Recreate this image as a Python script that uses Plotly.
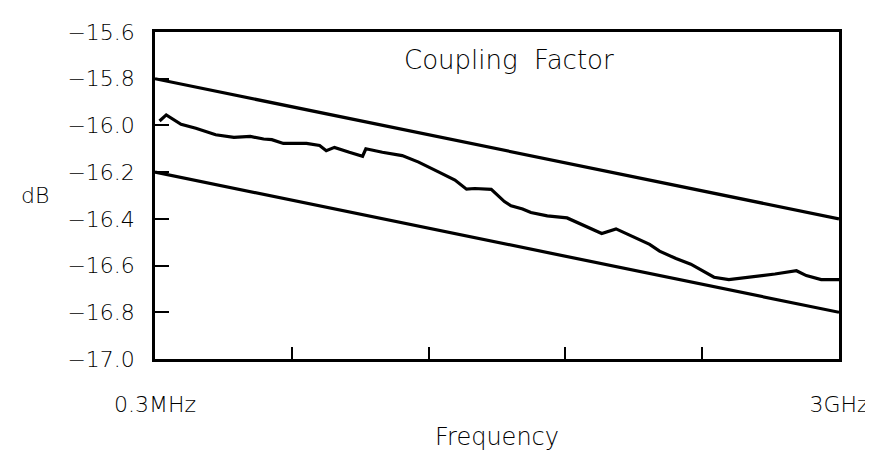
import plotly.graph_objects as go

# Measured coupling factor (frequency in MHz, value in dB)
freq_mhz = [0.319, 0.349, 0.426, 0.520, 0.679, 0.868, 1.083, 1.295, 1.446, 1.690,
            2.306, 2.753, 3.010, 3.362, 4.106, 4.909, 5.130, 6.408, 8.367, 10.44,
            13.63, 17.03, 19.90, 22.23, 27.77, 33.15, 36.25, 42.33, 47.34, 59.05,
            77.07, 105.3, 122.9, 149.0, 179.5, 234.2, 267.7, 334.0, 407.9, 476.7,
            557.3, 680.6, 888.3, 1266.5, 1691, 1932, 2360, 3000]
coupling_db = [-15.981, -15.955, -15.995, -16.012, -16.040, -16.051, -16.047, -16.058, -16.061, -16.077,
               -16.077, -16.086, -16.108, -16.094, -16.115, -16.132, -16.100, -16.115, -16.129, -16.157,
               -16.199, -16.234, -16.273, -16.270, -16.274, -16.326, -16.344, -16.358, -16.373, -16.387,
               -16.396, -16.439, -16.463, -16.443, -16.471, -16.509, -16.538, -16.570, -16.594, -16.622,
               -16.650, -16.660, -16.650, -16.636, -16.622, -16.643, -16.660, -16.660]

# Limit lines
limit_freq = [0.3, 3000]
upper_limit = [-15.8, -16.4]
lower_limit = [-16.2, -16.8]

# Axis ticks
x_tickvals = [0.3, 1.893, 11.94, 75.36, 475.5, 3000]
x_ticktext = ["0.3MHz", "", "", "", "", "3GHz"]
y_tickvals = [-15.6, -15.8, -16.0, -16.2, -16.4, -16.6, -16.8, -17.0]

FONT = "DejaVu Sans"
line_style = dict(color="black", width=3.2)

fig = go.Figure()
fig.add_trace(go.Scatter(x=limit_freq, y=upper_limit, mode="lines", line=line_style, showlegend=False))
fig.add_trace(go.Scatter(x=limit_freq, y=lower_limit, mode="lines", line=line_style, showlegend=False))
fig.add_trace(go.Scatter(x=freq_mhz, y=coupling_db, mode="lines", line=line_style, showlegend=False))

fig.update_layout(
    width=873, height=453,
    margin=dict(l=147, r=35, t=20, b=102),
    paper_bgcolor="white", plot_bgcolor="white",
    font=dict(family=FONT, size=22, color="black", weight=200),
    xaxis=dict(
        type="log", range=[-0.5229, 3.4771],
        tickvals=x_tickvals, ticktext=x_ticktext,
        ticks="inside", ticklen=12, tickwidth=1.5, tickcolor="black",
        showline=True, linecolor="black", linewidth=2.5, mirror=True,
        showgrid=False, zeroline=False, ticklabelstandoff=24,
    ),
    yaxis=dict(
        range=[-17.0, -15.6],
        tickvals=y_tickvals, tickformat=".1f",
        ticks="inside", ticklen=14, tickwidth=2, tickcolor="black",
        showline=True, linecolor="black", linewidth=2.5, mirror=True,
        showgrid=False, zeroline=False, ticklabelstandoff=13,
    ),
    annotations=[
        dict(text="Coupling  Factor", xref="paper", yref="paper", x=0.518, y=0.915,
             xanchor="center", yanchor="middle", showarrow=False, font=dict(size=26)),
        dict(text="dB", xref="paper", yref="paper", x=-0.175, y=0.5,
             xanchor="center", yanchor="middle", showarrow=False, font=dict(size=22)),
        dict(text="Frequency", xref="paper", yref="paper", x=0.5, y=-0.238,
             xanchor="center", yanchor="middle", showarrow=False, font=dict(size=24)),
    ],
)

fig.write_html("out.html")
